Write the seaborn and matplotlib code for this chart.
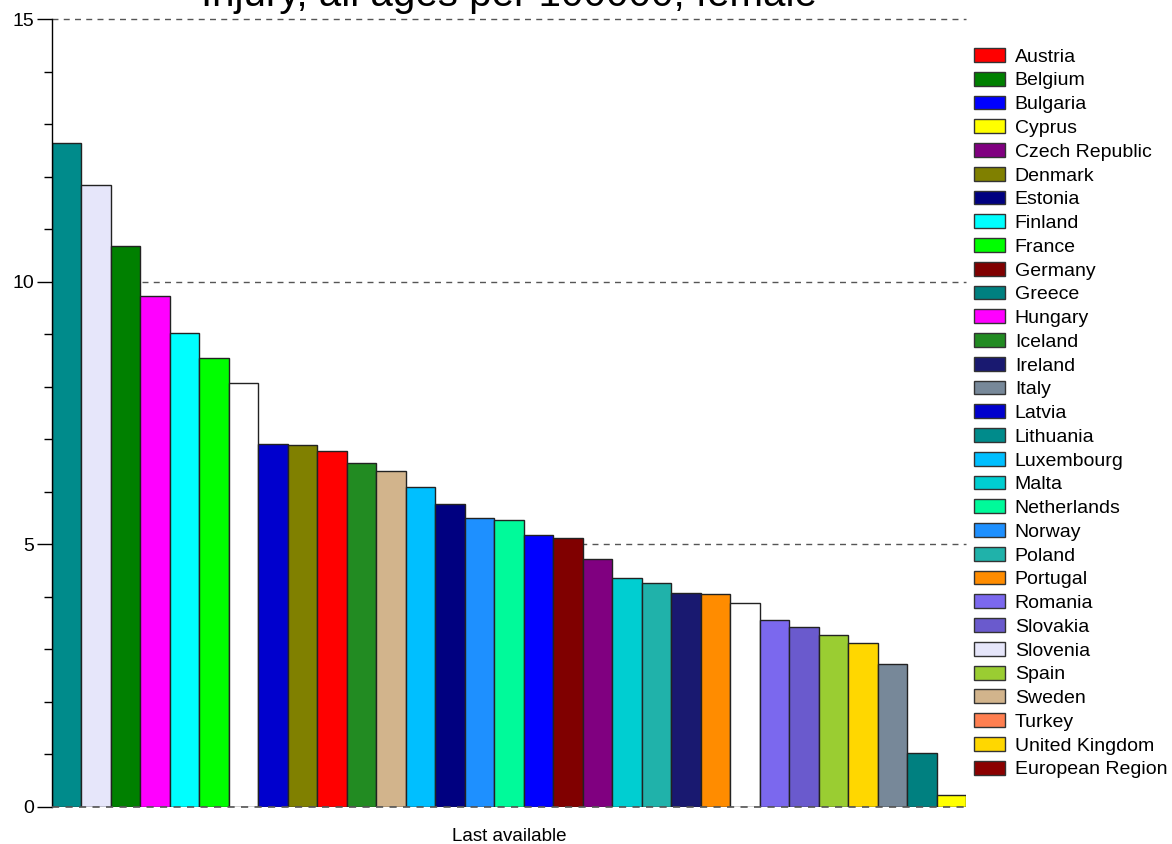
import pandas as pd
import matplotlib.pyplot as plt
import seaborn as sns
from matplotlib.patches import Patch
from matplotlib.ticker import MultipleLocator

# legend entries (order as in the legend box)
legend_names = ['Austria', 'Belgium', 'Bulgaria', 'Cyprus', 'Czech Republic', 'Denmark',
                'Estonia', 'Finland', 'France', 'Germany', 'Greece', 'Hungary', 'Iceland',
                'Ireland', 'Italy', 'Latvia', 'Lithuania', 'Luxembourg', 'Malta',
                'Netherlands', 'Norway', 'Poland', 'Portugal', 'Romania', 'Slovakia',
                'Slovenia', 'Spain', 'Sweden', 'Turkey', 'United Kingdom', 'European Region']
legend_colors = ['red', 'green', 'blue', 'yellow', 'purple', 'olive',
                 'navy', 'cyan', 'lime', 'maroon', 'teal', 'magenta', 'forestgreen',
                 'midnightblue', 'lightslategray', 'mediumblue', 'darkcyan', 'deepskyblue', 'darkturquoise',
                 'mediumspringgreen', 'dodgerblue', 'lightseagreen', 'darkorange', 'mediumslateblue', 'slateblue',
                 'lavender', 'yellowgreen', 'tan', 'coral', 'gold', 'darkred']

# bars, sorted as drawn (largest first)
bar_names = ['Lithuania', 'Slovenia', 'Belgium', 'Hungary', 'Finland', 'France', 'Turkey',
             'Latvia', 'Denmark', 'Austria', 'Iceland', 'Sweden', 'Luxembourg', 'Estonia',
             'Norway', 'Netherlands', 'Bulgaria', 'Germany', 'Czech Republic', 'Malta',
             'Poland', 'Ireland', 'Portugal', 'European Region', 'Romania', 'Slovakia',
             'Spain', 'United Kingdom', 'Italy', 'Greece', 'Cyprus']
bar_values = [12.65, 11.84, 10.69, 9.72, 9.03, 8.55, 8.08,
              6.90, 6.89, 6.77, 6.54, 6.39, 6.09, 5.76,
              5.50, 5.46, 5.18, 5.11, 4.72, 4.36,
              4.26, 4.08, 4.06, 3.89, 3.56, 3.42,
              3.28, 3.12, 2.71, 1.02, 0.23]
bar_colors = ['darkcyan', 'lavender', 'green', 'magenta', 'cyan', 'lime', 'white',
              'mediumblue', 'olive', 'red', 'forestgreen', 'tan', 'deepskyblue', 'navy',
              'dodgerblue', 'mediumspringgreen', 'blue', 'maroon', 'purple', 'darkturquoise',
              'lightseagreen', 'midnightblue', 'darkorange', 'white', 'mediumslateblue', 'slateblue',
              'yellowgreen', 'gold', 'lightslategray', 'teal', 'yellow']

df = pd.DataFrame({'country': bar_names, 'value': bar_values})

sns.set_style('white')
plt.rcParams['font.family'] = ['Liberation Sans', 'DejaVu Sans']
plt.rcParams['text.color'] = 'black'
plt.rcParams['axes.labelcolor'] = 'black'
plt.rcParams['ytick.color'] = 'black'

W, H = 1172, 844
fig = plt.figure(figsize=(W / 100, H / 100), dpi=100)
ax = fig.add_axes([52 / W, (H - 806.7) / H, (966 - 52) / W, (806.7 - 19.3) / H])

sns.barplot(data=df, x='country', y='value', hue='country', order=bar_names,
            palette=dict(zip(bar_names, bar_colors)), legend=False, width=1,
            saturation=1, edgecolor='#222222', linewidth=1, ax=ax, zorder=2)

ax.set_xlim(-0.5, len(bar_names) - 0.5)
ax.set_ylim(0, 15)
ax.set_xticks([])
ax.set_yticks([0, 5, 10, 15])
ax.yaxis.set_minor_locator(MultipleLocator(1))
ax.tick_params(axis='y', which='major', direction='out', length=11, width=1,
               color='black', labelcolor='black', pad=2, labelsize=14, left=True)
ax.tick_params(axis='y', which='minor', direction='out', length=6, width=1,
               color='black', left=True)

for s in ['top', 'right', 'bottom']:
    ax.spines[s].set_visible(False)
ax.spines['left'].set_color('black')
ax.spines['left'].set_linewidth(1)

for v in [5, 10, 15]:
    ax.axhline(v, color='#555555', lw=1, ls=(0, (4.3, 3.8)), zorder=1, clip_on=False)
ax.axhline(0, color='#555555', lw=1.2, ls=(0, (4.3, 3.8)), zorder=3, clip_on=False)

ax.set_xlabel('Last available', fontsize=13.5, labelpad=15, color='black')
ax.set_ylabel('')

fig.text(509 / W, 1 - 6 / H, 'Injury, all ages per 100000, female',
         ha='center', va='baseline', fontsize=29, color='black')

handles = [Patch(facecolor=c, edgecolor='#333333', linewidth=1) for c in legend_colors]
fig.legend(handles, legend_names, loc='upper left',
           bbox_to_anchor=(974 / W, 1 - 48 / H), bbox_transform=fig.transFigure,
           frameon=False, fontsize=14, borderpad=0, borderaxespad=0,
           handlelength=1.6, handleheight=0.72, handletextpad=0.5, labelspacing=0.31)

fig.savefig('out.png', dpi=100, facecolor='white')
